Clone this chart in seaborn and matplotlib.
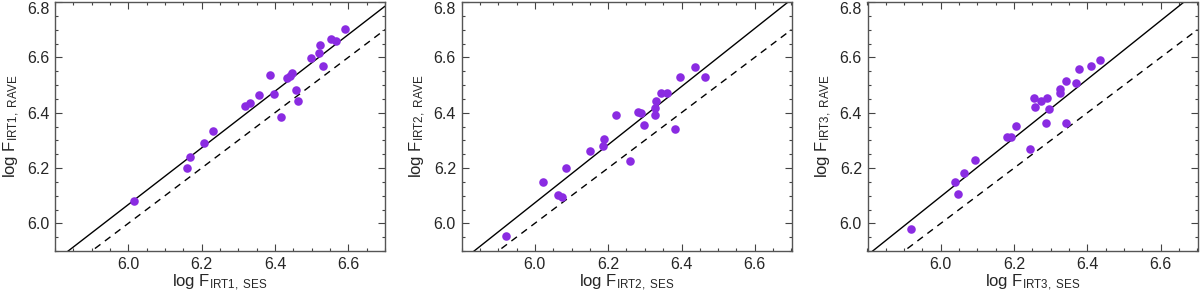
#!/usr/bin/env python3

import numpy as np
import pandas as pd
import matplotlib
matplotlib.use("Agg")
import matplotlib.pyplot as plt
import seaborn as sns

# log flux, SES vs RAVE, one pair of arrays per Ca II IRT line
irt1_ses = [6.015, 6.161, 6.168, 6.205, 6.231, 6.318, 6.331, 6.356, 6.385, 6.398,
            6.416, 6.433, 6.440, 6.445, 6.456, 6.464, 6.497, 6.519, 6.523, 6.532,
            6.554, 6.566, 6.590]
irt1_rave = [6.080, 6.199, 6.239, 6.289, 6.335, 6.423, 6.436, 6.464, 6.536, 6.466,
             6.386, 6.524, 6.532, 6.543, 6.483, 6.443, 6.599, 6.615, 6.646, 6.567,
             6.665, 6.660, 6.703]

irt2_ses = [5.922, 6.022, 6.063, 6.074, 6.086, 6.151, 6.188, 6.187, 6.220, 6.260,
            6.280, 6.290, 6.299, 6.327, 6.327, 6.330, 6.345, 6.360, 6.381, 6.395,
            6.437, 6.463]
irt2_rave = [5.953, 6.148, 6.104, 6.096, 6.199, 6.262, 6.306, 6.279, 6.392, 6.225,
             6.402, 6.398, 6.354, 6.392, 6.418, 6.442, 6.472, 6.472, 6.340, 6.529,
             6.564, 6.530]

irt3_ses = [5.919, 6.039, 6.048, 6.063, 6.092, 6.181, 6.192, 6.206, 6.242, 6.254,
            6.256, 6.273, 6.290, 6.294, 6.287, 6.324, 6.324, 6.342, 6.342, 6.369,
            6.376, 6.410, 6.435]
irt3_rave = [5.980, 6.151, 6.106, 6.181, 6.230, 6.311, 6.311, 6.353, 6.268, 6.452,
             6.420, 6.441, 6.452, 6.412, 6.361, 6.487, 6.471, 6.514, 6.362, 6.507,
             6.559, 6.568, 6.592]

# linear fits (slope, intercept) drawn as solid lines
fit_slope = [1.024, 1.051, 1.060]
fit_icpt = [-0.076, -0.232, -0.263]

lines = ["IRT1", "IRT2", "IRT3"]

sns.set_style("ticks")
plt.rcParams['font.family'] = ['Liberation Sans', 'DejaVu Sans']
plt.rcParams['mathtext.fontset'] = 'custom'
plt.rcParams['mathtext.rm'] = 'Liberation Sans'
plt.rcParams['mathtext.it'] = 'Liberation Sans'
plt.rcParams['font.size'] = 11.5

fig = plt.figure(figsize=(12, 2.97), dpi=100)
W, H = 1200., 297.
lefts = [55, 461.5, 867.5]

data = [(irt1_ses, irt1_rave), (irt2_ses, irt2_rave), (irt3_ses, irt3_rave)]

for i, (xs, ys) in enumerate(data):
    ax = fig.add_axes([lefts[i] / W, 46 / H, 330 / W, 249 / H])
    df = pd.DataFrame({"ses": xs, "rave": ys})

    xx = np.array([5.8, 6.7])
    ax.plot(xx, xx, color="black", lw=1.0, ls=(0, (5, 4)), zorder=1)
    ax.plot(xx, fit_slope[i] * xx + fit_icpt[i], color="black", lw=1.0, zorder=1)

    sns.scatterplot(ax=ax, data=df, x="ses", y="rave", color="#8a2be2",
                    s=38, linewidth=0, zorder=3)

    ax.set_xlim(5.8, 6.7)
    ax.set_ylim(5.9, 6.8)
    ax.set_xticks([6.0, 6.2, 6.4, 6.6])
    ax.set_yticks([6.0, 6.2, 6.4, 6.6, 6.8])
    ax.set_xticklabels(["6.0", "6.2", "6.4", "6.6"])
    ax.set_yticklabels(["6.0", "6.2", "6.4", "6.6", "6.8"])
    ax.set_xticks(np.arange(5.8, 6.71, 0.05), minor=True)
    ax.set_yticks(np.arange(5.9, 6.81, 0.05), minor=True)
    ax.tick_params(which="both", direction="in", top=True, right=True,
                   color="#444444", width=0.8, labelsize=11.5)
    ax.tick_params(which="major", length=5, pad=4)
    ax.tick_params(which="minor", length=2.5)
    for sp in ax.spines.values():
        sp.set_color("#555555")
        sp.set_linewidth(1.0)
    ax.get_yticklabels()[-1].set_va("top")

    ax.set_xlabel(r"log F$_{\mathrm{%s,\ SES}}$" % lines[i], fontsize=12, labelpad=1)
    ax.set_ylabel(r"log F$_{\mathrm{%s,\ RAVE}}$" % lines[i], fontsize=12, labelpad=4)

fig.savefig("out.png", dpi=100)
